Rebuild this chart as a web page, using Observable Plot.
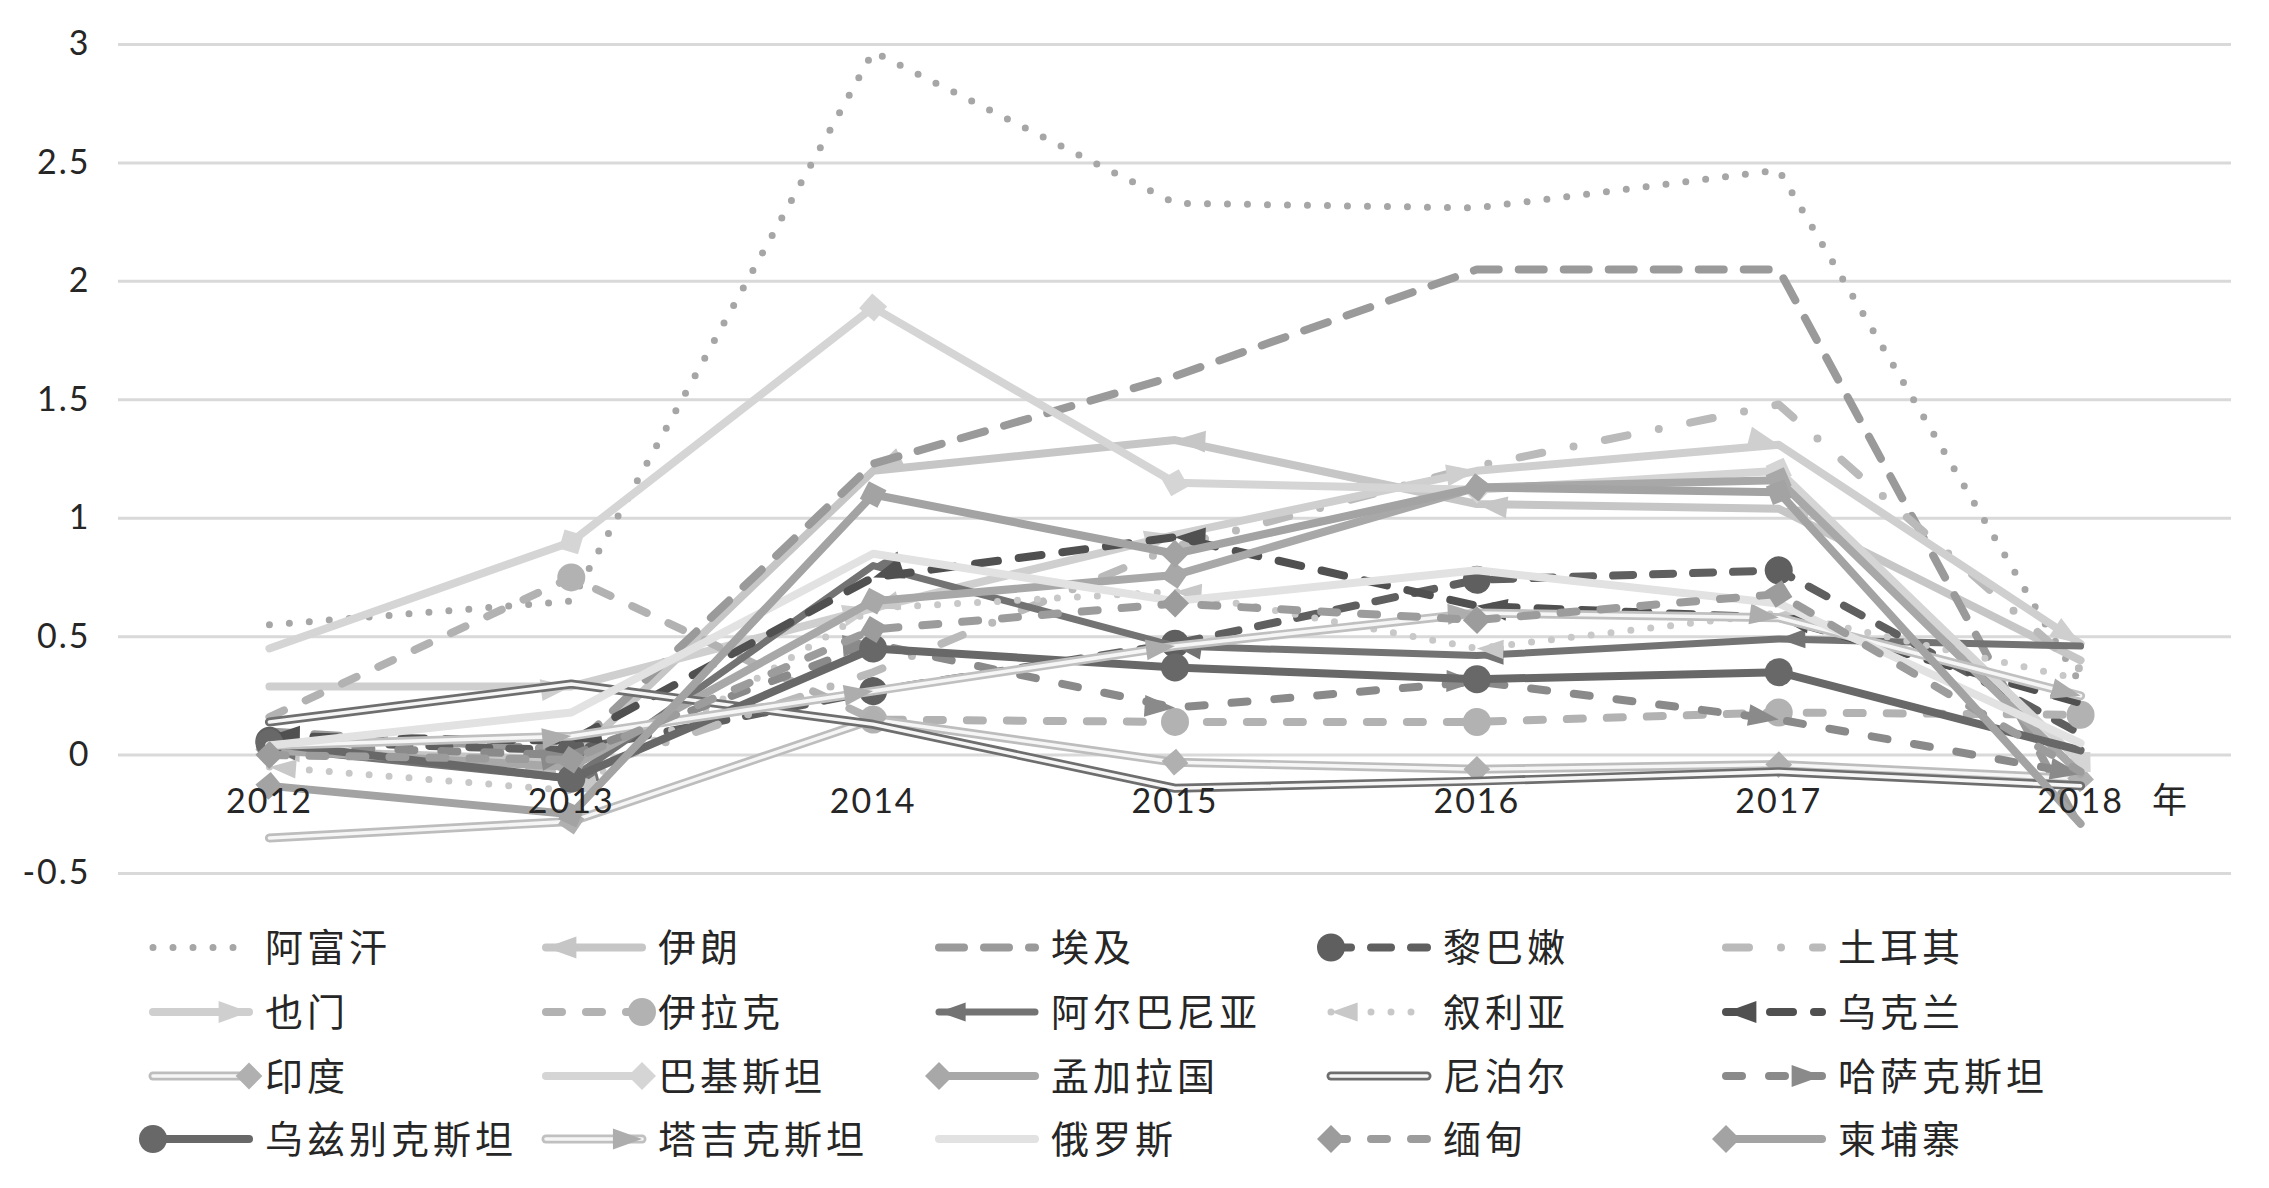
<!DOCTYPE html>
<html>
<head>
<meta charset="utf-8">
<script src="https://cdn.jsdelivr.net/npm/d3@7"></script>
<script src="https://cdn.jsdelivr.net/npm/@observablehq/plot@0.6"></script>
<style>
  html, body { margin: 0; padding: 0; background: #ffffff; }
  #page { width: 2269px; height: 1188px; overflow: hidden; background: #ffffff; }
  #chart svg { display: block; }
  #chart text { letter-spacing: 2px; }
  #legend { display: block; }
</style>
</head>
<body>
<div id="page">
  <div id="chart"></div>
  <svg id="legend" width="2269" height="288"></svg>
</div>
<script>
// ---------------- data ----------------
const years = [2012, 2013, 2014, 2015, 2016, 2017, 2018];
const yTicks = [-0.5, 0, 0.5, 1, 1.5, 2, 2.5, 3];
const yearUnit = "年";
const names = ["阿富汗", "伊朗", "埃及", "黎巴嫩", "土耳其",
               "也门", "伊拉克", "阿尔巴尼亚", "叙利亚", "乌克兰",
               "印度", "巴基斯坦", "孟加拉国", "尼泊尔", "哈萨克斯坦",
               "乌兹别克斯坦", "塔吉克斯坦", "俄罗斯", "缅甸", "柬埔寨"];

const afghanistan = [0.55, 0.65, 2.97, 2.33, 2.31, 2.47, 0.30];
const iran        = [0.02, -0.02, 1.20, 1.33, 1.06, 1.04, 0.40];
const egypt       = [0.10, 0.02, 1.23, 1.60, 2.05, 2.05, -0.31];
const lebanon     = [0.06, 0.02, 0.27, 0.47, 0.74, 0.78, 0.09];
const turkey      = [0.05, -0.08, 0.35, 0.88, 1.22, 1.48, 0.36];
const yemen       = [0.29, 0.29, 0.62, 0.93, 1.20, 1.31, 0.47];
const iraq        = [0.16, 0.75, 0.15, 0.14, 0.14, 0.18, 0.17];
const albania     = [0.03, -0.10, 0.80, 0.46, 0.42, 0.49, 0.46];
const syria       = [-0.05, -0.15, 0.62, 0.69, 0.45, 0.60, 0.32];
const ukraine     = [0.08, 0.06, 0.75, 0.92, 0.63, 0.58, 0.22];
const india       = [-0.35, -0.28, 0.15, -0.03, -0.06, -0.04, -0.10];
const pakistan    = [0.45, 0.90, 1.89, 1.15, 1.12, 1.20, -0.03];
const bangladesh  = [0.02, -0.05, 0.65, 0.76, 1.13, 1.16, -0.08];
const nepal       = [0.14, 0.30, 0.13, -0.14, -0.11, -0.07, -0.13];
const kazakhstan  = [0.04, 0.00, 0.47, 0.20, 0.31, 0.15, -0.08];
const uzbekistan  = [0.05, -0.10, 0.45, 0.37, 0.32, 0.35, 0.02];
const tajikistan  = [0.04, 0.08, 0.27, 0.46, 0.60, 0.58, 0.25];
const russia      = [0.04, 0.18, 0.85, 0.65, 0.78, 0.64, 0.05];
const myanmar     = [0.00, -0.02, 0.53, 0.64, 0.57, 0.68, -0.07];
const cambodia    = [-0.13, -0.25, 1.10, 0.85, 1.13, 1.11, -0.29];

const seriesValues = [afghanistan, iran, egypt, lebanon, turkey,
                      yemen, iraq, albania, syria, ukraine,
                      india, pakistan, bangladesh, nepal, kazakhstan,
                      uzbekistan, tajikistan, russia, myanmar, cambodia];

// ---------------- styles (kept apart from the data) ----------------
const styles = [
  {color: "#a6a6a6", width: 7, dash: "0 20"},
  {color: "#c6c6c6", width: 8, cap: "arrowStart"},
  {color: "#9a9a9a", width: 8, dash: "25 20"},
  {color: "#5f5f5f", width: 8, dash: "20 20", cap: "circleStart"},
  {color: "#bababa", width: 8, dash: "23 32 0 32"},
  {color: "#cfcfcf", width: 8, cap: "arrowEnd"},
  {color: "#b2b2b2", width: 8, dash: "16 24", cap: "circleEnd"},
  {color: "#737373", width: 7, cap: "arrowStart"},
  {color: "#c8c8c8", width: 7, dash: "0 20", cap: "arrowStart"},
  {color: "#505050", width: 8, dash: "23 21", cap: "arrowStart"},
  {color: "#bdbdbd", width: 9, double: "#f6f6f6", cap: "diamondEnd", capColor: "#b0b0b0"},
  {color: "#d5d5d5", width: 8, cap: "diamondEnd"},
  {color: "#a8a8a8", width: 8, cap: "diamondStart"},
  {color: "#6e6e6e", width: 9, double: "#f6f6f6"},
  {color: "#8a8a8a", width: 8, dash: "16 27", cap: "arrowEnd"},
  {color: "#686868", width: 8, cap: "circleStart"},
  {color: "#c0c0c0", width: 9, double: "#f6f6f6", cap: "arrowEnd", capColor: "#adadad"},
  {color: "#e2e2e2", width: 8},
  {color: "#9c9c9c", width: 8, dash: "16 24", cap: "diamondStart"},
  {color: "#a3a3a3", width: 8, cap: "diamondStart"}
];

const NS = "http://www.w3.org/2000/svg";
function makeMarker(kind, color, scale = 1) {
  const m = document.createElementNS(NS, "marker");
  m.setAttribute("markerUnits", "strokeWidth");
  m.setAttribute("orient", "auto");
  m.setAttribute("overflow", "visible");
  let el;
  if (kind.startsWith("arrow")) {
    const fwd = kind === "arrowEnd";
    m.setAttribute("viewBox", fwd ? "-10 -3.6 10 7.2" : "0 -3.6 10 7.2");
    m.setAttribute("markerWidth", 3.8 * scale);
    m.setAttribute("markerHeight", 2.74 * scale);
    el = document.createElementNS(NS, "path");
    el.setAttribute("d", fwd ? "M0,0L-10,-3.6L-10,3.6Z" : "M0,0L10,-3.6L10,3.6Z");
  } else if (kind.startsWith("circle")) {
    m.setAttribute("viewBox", "-5 -5 10 10");
    m.setAttribute("markerWidth", 3.5 * scale);
    m.setAttribute("markerHeight", 3.5 * scale);
    el = document.createElementNS(NS, "circle");
    el.setAttribute("r", 5);
  } else {
    m.setAttribute("viewBox", "-5 -5 10 10");
    m.setAttribute("markerWidth", 3.5 * scale);
    m.setAttribute("markerHeight", 3.5 * scale);
    el = document.createElementNS(NS, "path");
    el.setAttribute("d", "M-5,0L0,-5L5,0L0,5Z");
  }
  el.setAttribute("fill", color);
  el.setAttribute("stroke", "none");
  m.appendChild(el);
  return m;
}

const innerRatio = 0.4;

function lineMarks(vals, st, withMarkers) {
  const out = [];
  const base = {
    x: years, y: vals,
    stroke: st.color, strokeWidth: st.width,
    strokeLinecap: "round", strokeLinejoin: "round"
  };
  if (st.dash) base.strokeDasharray = st.dash;
  const mk = {};
  if (withMarkers && st.cap) {
    const c = st.capColor || st.color;
    const sc = st.double ? 0.85 / innerRatio : 1;
    const f = () => makeMarker(st.cap, c, sc);
    if (st.cap.endsWith("Start")) { mk.markerStart = f; mk.markerMid = f; }
    else { mk.markerMid = f; mk.markerEnd = f; }
  }
  if (st.double) {
    out.push(Plot.line(vals, base));
    out.push(Plot.line(vals, {x: years, y: vals, stroke: st.double, strokeWidth: st.width * innerRatio,
      strokeLinecap: "round", strokeLinejoin: "round", ...mk}));
  } else {
    out.push(Plot.line(vals, {...base, ...mk}));
  }
  return out;
}

function build(withMarkers) {
  const marks = [
    Plot.gridY(yTicks, {stroke: "#d9d9d9", strokeOpacity: 1, strokeWidth: 3}),
    Plot.axisY(yTicks, {tickSize: 0, tickPadding: 28, tickFormat: d => String(d),
      fontSize: 34, fill: "#262626"})
  ];
  seriesValues.forEach((vals, i) => marks.push(...lineMarks(vals, styles[i], withMarkers)));
  marks.push(Plot.text(years, {x: d => d, y: () => 0, dy: 47, text: d => String(d),
    fontSize: 34, fill: "#262626", textAnchor: "middle", lineAnchor: "middle"}));
  marks.push(Plot.text([yearUnit], {x: () => years[years.length - 1], y: () => 0, dx: 90, dy: 47,
    text: d => d, fontSize: 35, fill: "#262626", fontFamily: "Noto Sans CJK SC",
    textAnchor: "middle", lineAnchor: "middle"}));
  return Plot.plot({
    width: 2269, height: 900,
    marginLeft: 118, marginRight: 38, marginTop: 44, marginBottom: 27,
    style: {fontFamily: "Lato, 'Noto Sans', sans-serif", fontSize: "34px", background: "#ffffff", color: "#262626", overflow: "visible"},
    x: {domain: [years[0] - 0.5, years[years.length - 1] + 0.5], axis: null},
    y: {domain: [yTicks[0], yTicks[yTicks.length - 1]], axis: null},
    marks
  });
}

let chart;
try { chart = build(true); } catch (e) { console.error(e); chart = build(false); }
document.getElementById("chart").appendChild(chart);

// ---------------- legend (below the chart svg) ----------------
const legend = d3.select("#legend");
const defs = legend.append("defs");
const textX = [265, 658, 1051, 1443, 1838];
const rowY = [47.5, 112, 176, 239];
names.forEach((name, i) => {
  const st = styles[i];
  const col = i % 5, row = Math.floor(i / 5);
  const x0 = textX[col] - 112, x1 = textX[col] - 16, y = rowY[row];
  const g = legend.append("g");
  let startId = null, endId = null;
  if (st.cap) {
    const m = makeMarker(st.cap, st.capColor || st.color, st.double ? 0.85 / innerRatio : 1);
    const id = "lg" + i;
    m.setAttribute("id", id);
    defs.node().appendChild(m);
    if (st.cap.endsWith("Start")) startId = id; else endId = id;
  }
  const ln = g.append("line").attr("x1", x0).attr("x2", x1).attr("y1", y).attr("y2", y)
    .attr("stroke", st.color).attr("stroke-width", st.width)
    .attr("stroke-linecap", "round").attr("fill", "none");
  if (st.dash) ln.attr("stroke-dasharray", st.dash);
  let top = ln;
  if (st.double) {
    top = g.append("line").attr("x1", x0).attr("x2", x1).attr("y1", y).attr("y2", y)
      .attr("stroke", st.double).attr("stroke-width", st.width * innerRatio).attr("stroke-linecap", "round");
  }
  if (startId) top.attr("marker-start", `url(#${startId})`);
  if (endId) top.attr("marker-end", `url(#${endId})`);
  g.append("text").attr("x", textX[col]).attr("y", y).attr("dy", "0.36em")
    .attr("font-family", "'Noto Sans CJK SC', sans-serif").attr("font-size", 38)
    .attr("letter-spacing", 4).attr("fill", "#262626").text(name);
});
</script>
</body>
</html>
